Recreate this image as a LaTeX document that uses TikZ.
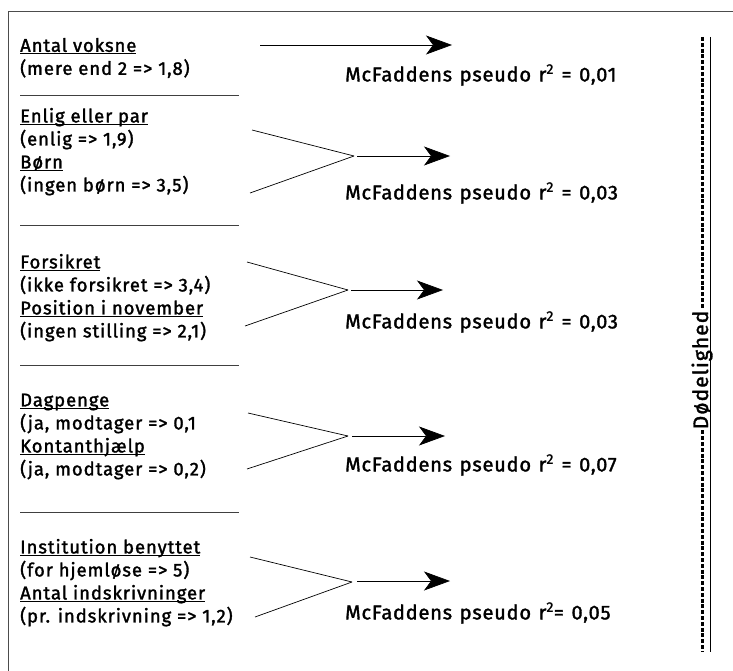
\documentclass[tikz,border=0pt]{standalone}
\usepackage{fontspec}
\setmainfont{Fira Sans}[LetterSpace=5, FakeBold=1.6]
\newfontfamily\rsqfont{Fira Sans}[LetterSpace=4, FakeBold=1.6, WordSpace=1.25]
\usetikzlibrary{arrows.meta, positioning}
\newcommand\ulin[1]{\underline{\vphantom{x}\smash{#1}}\rule[-1pt]{0pt}{0pt}}

\begin{document}
\begin{tikzpicture}[
    x=1pt, y=-1pt,
    grp/.style={anchor=west, inner sep=0pt, align=left, font=\fontsize{18.5}{23}\selectfont},
    rsq/.style={anchor=west, inner sep=0pt, font=\rsqfont\fontsize{20}{24}\selectfont},
    sep/.style={black!75, line width=0.9pt},
    conn/.style={line width=0.7pt},
    arr/.style={line width=0.7pt, -{Stealth[length=26pt, width=19pt, inset=7pt]}}
]
\useasboundingbox (0,0) rectangle (733,671);

% frame
\draw[black!70, line width=1pt] (733,12) -- (8,12) -- (8,671);

% variable groups
\node[grp] (g1) at (20,60)  {\ulin{Antal voksne}\\(mere end 2 => 1,8)};
\node[grp] (g2) at (20,154) {\ulin{Enlig eller par}\\(enlig => 1,9)\\\ulin{Børn}\\(ingen børn => 3,5)};
\node[grp] (g3) at (20,300) {\ulin{Forsikret}\\(ikke forsikret => 3,4)\\\ulin{Position i november}\\(ingen stilling => 2,1)};
\node[grp] (g4) at (20,438) {\ulin{Dagpenge}\\(ja, modtager => 0,1\\\ulin{Kontanthjælp}\\(ja, modtager => 0,2)};
\node[grp] (g5) at (20,585) {\ulin{Institution benyttet}\\(for hjemløse => 5)\\\ulin{Antal indskrivninger}\\(pr. indskrivning => 1,2)};

% separators
\foreach \y in {95,225,365,512}
    \draw[sep] (20,\y) -- (239,\y);

% fit values
\node[rsq] (m1) at (345,75)  {McFaddens pseudo r\textsuperscript{2} = 0,01};
\node[rsq] (m2) at (345,193) {McFaddens pseudo r\textsuperscript{2} = 0,03};
\node[rsq] (m3) at (345,322) {McFaddens pseudo r\textsuperscript{2} = 0,03};
\node[rsq] (m4) at (345,465) {McFaddens pseudo r\textsuperscript{2} = 0,07};
\node[rsq] (m5) at (345,613) {McFaddens pseudo r\textsuperscript{2}= 0,05};

% connector points
\coordinate (s1) at (260,45);  \coordinate (t1) at (452,45);
\coordinate (a2) at (252,130); \coordinate (b2) at (250,193); \coordinate (j2) at (354,156); \coordinate (s2) at (357,156); \coordinate (t2) at (450,156);
\coordinate (a3) at (247,262); \coordinate (b3) at (245,326); \coordinate (j3) at (348,290); \coordinate (s3) at (351,290); \coordinate (t3) at (443,290);
\coordinate (a4) at (248,413); \coordinate (b4) at (247,469); \coordinate (j4) at (348,436); \coordinate (s4) at (352,436); \coordinate (t4) at (445,436);
\coordinate (a5) at (250,557); \coordinate (b5) at (255,617); \coordinate (j5) at (352,582); \coordinate (s5) at (357,581); \coordinate (t5) at (450,581);

\draw[arr] (s1) -- (t1);
\foreach \i in {2,...,5} {
    \draw[conn] (a\i) -- (j\i);
    \draw[conn] (b\i) -- (j\i);
    \draw[arr] (s\i) -- (t\i);
}

% outcome
\node[anchor=base, inner sep=1pt, rotate=90, font=\fontsize{21}{24}\selectfont] (dl) at (708,370) {Dødelighed};
\coordinate (dtop) at (702,37);
\coordinate (dbot) at (702,651);
\draw[line width=3pt, dash pattern=on 4pt off 1.8pt] (dtop) -- (dtop |- dl.east);
\draw[line width=3pt, dash pattern=on 4pt off 1.8pt] (dbot |- dl.west) -- (dbot);
\draw[line width=0.8pt] (710,37) -- (710,652);

\end{tikzpicture}
\end{document}
